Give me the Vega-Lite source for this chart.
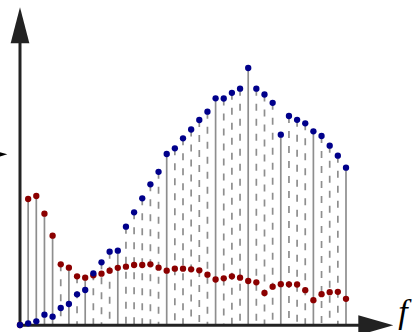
{
  "$schema": "https://vega.github.io/schema/vega-lite/v6.json",
  "width": 417,
  "height": 332,
  "autosize": {"type": "none"},
  "padding": 0,
  "background": "white",
  "config": {"view": {"stroke": null}},
  "datasets": {
    "spectrum": [
      {"i": 0, "blue": 0, "red": 0, "stem": "solid"},
      {"i": 1, "blue": 1.7, "red": 126, "stem": "solid"},
      {"i": 2, "blue": 3.7, "red": 129, "stem": "solid"},
      {"i": 3, "blue": 10.3, "red": 111.3, "stem": "solid"},
      {"i": 4, "blue": 8.3, "red": 89.3, "stem": "solid"},
      {"i": 5, "blue": 17, "red": 60.7, "stem": "dashed"},
      {"i": 6, "blue": 21, "red": 57.3, "stem": "solid"},
      {"i": 7, "blue": 30.7, "red": 48.7, "stem": "dashed"},
      {"i": 8, "blue": 35, "red": 47.3, "stem": "solid"},
      {"i": 9, "blue": 51.7, "red": 49.7, "stem": "dashed"},
      {"i": 10, "blue": 62.7, "red": 51.3, "stem": "dashed"},
      {"i": 11, "blue": 73.3, "red": 54.3, "stem": "dashed"},
      {"i": 12, "blue": 74.3, "red": 57.2, "stem": "solid"},
      {"i": 13, "blue": 98.3, "red": 58.3, "stem": "dashed"},
      {"i": 14, "blue": 112.7, "red": 60, "stem": "dashed"},
      {"i": 15, "blue": 126.7, "red": 60, "stem": "dashed"},
      {"i": 16, "blue": 140.7, "red": 60.7, "stem": "dashed"},
      {"i": 17, "blue": 153.2, "red": 57.3, "stem": "dashed"},
      {"i": 18, "blue": 171, "red": 54.3, "stem": "solid"},
      {"i": 19, "blue": 176.7, "red": 56.3, "stem": "dashed"},
      {"i": 20, "blue": 186.7, "red": 56.3, "stem": "dashed"},
      {"i": 21, "blue": 195.5, "red": 55.7, "stem": "dashed"},
      {"i": 22, "blue": 205, "red": 54.7, "stem": "dashed"},
      {"i": 23, "blue": 213.3, "red": 50.3, "stem": "dashed"},
      {"i": 24, "blue": 226.7, "red": 45.5, "stem": "solid"},
      {"i": 25, "blue": 226.5, "red": 46.7, "stem": "dashed"},
      {"i": 26, "blue": 232.2, "red": 48.7, "stem": "dashed"},
      {"i": 27, "blue": 236.3, "red": 47.3, "stem": "dashed"},
      {"i": 28, "blue": 257, "red": 44, "stem": "solid"},
      {"i": 29, "blue": 236.3, "red": 42.7, "stem": "dashed"},
      {"i": 30, "blue": 230.5, "red": 32, "stem": "dashed"},
      {"i": 31, "blue": 222.2, "red": 38.3, "stem": "dashed"},
      {"i": 32, "blue": 190.3, "red": 40.8, "stem": "solid"},
      {"i": 33, "blue": 209, "red": 40.7, "stem": "dashed"},
      {"i": 34, "blue": 205.2, "red": 40.5, "stem": "dashed"},
      {"i": 35, "blue": 201.7, "red": 34.8, "stem": "dashed"},
      {"i": 36, "blue": 193.7, "red": 24.8, "stem": "solid"},
      {"i": 37, "blue": 189, "red": 30.8, "stem": "dashed"},
      {"i": 38, "blue": 179.3, "red": 32.8, "stem": "dashed"},
      {"i": 39, "blue": 169.3, "red": 33.2, "stem": "dashed"},
      {"i": 40, "blue": 157.3, "red": 26.2, "stem": "solid"}
    ]
  },
  "data": {"name": "spectrum"},
  "layer": [
    {
      "transform": [
        {"fold": ["blue", "red"], "as": ["series", "v"]},
        {"aggregate": [{"op": "max", "field": "v", "as": "top"}], "groupby": ["i", "stem"]}
      ],
      "mark": {"type": "rule", "color": "#8e8e8e", "strokeWidth": 1.7, "strokeCap": "butt"},
      "encoding": {
        "x": {"field": "i", "type": "quantitative", "axis": null,
              "scale": {"domain": [-2.454, 48.712], "nice": false, "zero": false}},
        "y": {"field": "top", "type": "quantitative", "axis": null,
              "scale": {"domain": [-7, 325], "nice": false, "zero": false}},
        "y2": {"datum": 0},
        "strokeDash": {"field": "stem", "type": "nominal", "legend": null,
                       "scale": {"domain": ["solid", "dashed"], "range": [[1, 0], [7, 8]]}}
      }
    },
    {
      "data": {"values": [{}]},
      "layer": [
        {
          "mark": {"type": "rule", "color": "#222222", "strokeWidth": 3, "strokeCap": "butt"},
          "encoding": {
            "x": {"datum": 0, "type": "quantitative"},
            "y": {"datum": -0.8, "type": "quantitative"},
            "y2": {"datum": 285}
          }
        },
        {
          "mark": {"type": "rule", "color": "#222222", "strokeWidth": 3, "strokeCap": "butt"},
          "encoding": {
            "x": {"datum": -0.25, "type": "quantitative"},
            "x2": {"datum": 41.8},
            "y": {"datum": -0.3, "type": "quantitative"}
          }
        },
        {
          "mark": {"type": "point", "filled": true, "color": "#222222", "opacity": 1,
                   "shape": "M0,-1L0.52,1L-0.52,1Z", "size": 1296},
          "encoding": {
            "x": {"datum": 0, "type": "quantitative"},
            "y": {"datum": 299.7, "type": "quantitative"}
          }
        },
        {
          "mark": {"type": "point", "filled": true, "color": "#222222", "opacity": 1,
                   "shape": "M1,0L-1,-0.57L-1,0.57Z", "size": 1225},
          "encoding": {
            "x": {"datum": 43.66, "type": "quantitative"},
            "y": {"datum": -0.3, "type": "quantitative"}
          }
        },
        {
          "mark": {"type": "point", "filled": true, "color": "#000000", "opacity": 1,
                   "shape": "M1,0L-1,-0.57L-1,0.57Z", "size": 306},
          "encoding": {
            "x": {"datum": -2.63, "type": "quantitative"},
            "y": {"datum": 170.7, "type": "quantitative"}
          }
        },
        {
          "mark": {"type": "text", "text": "f", "font": "Liberation Serif", "fontStyle": "italic",
                   "fontSize": 34, "align": "left", "baseline": "alphabetic", "color": "#000000"},
          "encoding": {
            "x": {"datum": 46.4, "type": "quantitative"},
            "y": {"datum": 2.5, "type": "quantitative"}
          }
        }
      ]
    },
    {
      "mark": {"type": "circle", "color": "#8b0000", "opacity": 1, "size": 40},
      "encoding": {
        "x": {"field": "i", "type": "quantitative"},
        "y": {"field": "red", "type": "quantitative"}
      }
    },
    {
      "mark": {"type": "circle", "color": "#00008b", "opacity": 1, "size": 40},
      "encoding": {
        "x": {"field": "i", "type": "quantitative"},
        "y": {"field": "blue", "type": "quantitative"}
      }
    }
  ]
}
